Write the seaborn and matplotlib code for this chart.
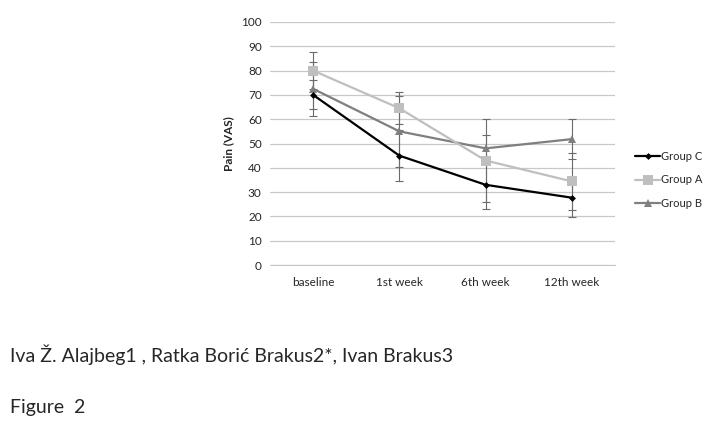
import pandas as pd
import numpy as np
from matplotlib import pyplot as plt
import seaborn as sns

weeks = ["baseline", "1st week", "6th week", "12th week"]
groups = ["Group C", "Group A", "Group B"]
group_c = [70, 45, 33, 27.7]
group_a = [80, 64.5, 43, 34.4]
group_b = [72.5, 55, 48, 51.8]
err_c = [6, 10.5, 10, 8]
err_a = [7.5, 6.5, 17, 11.6]
err_b = [11, 14.5, 5.5, 8.2]

sns.set_style("white")
plt.rcParams['font.family'] = ['Lato', 'DejaVu Sans']

df = pd.DataFrame({
    'week': weeks * 3,
    'group': np.repeat(groups, len(weeks)),
    'pain': group_c + group_a + group_b,
    'err': err_c + err_a + err_b,
})

colors = {"Group C": "#000000", "Group A": "#bfbfbf", "Group B": "#7f7f7f"}
markers = {"Group C": "D", "Group A": "s", "Group B": "^"}
msizes = {"Group C": 3.5, "Group A": 7, "Group B": 5.5}

fig = plt.figure(figsize=(7.13, 4.32), dpi=100)
ax = fig.add_axes([270 / 713, 1 - 265 / 432, 345 / 713, 243 / 432])

# error bars first so lines sit on top
for g in groups[::-1]:
    sub = df[df['group'] == g]
    ax.errorbar(sub['week'], sub['pain'], yerr=sub['err'], fmt='none',
                ecolor='#6b6b6b', elinewidth=0.8, capsize=3, capthick=0.8, zorder=2)

for g in groups[::-1]:
    sub = df[df['group'] == g]
    sns.lineplot(data=sub, x='week', y='pain', ax=ax, color=colors[g],
                 marker=markers[g], markersize=msizes[g], markeredgewidth=0,
                 linewidth=1.6, label=g, zorder=3, sort=False)

ax.set_xlim(-0.5, 3.5)
ax.set_ylim(0, 100)
ax.set_yticks(range(0, 101, 10))
ax.yaxis.grid(True, color='#c8c8c8', linewidth=0.9)
ax.set_axisbelow(True)
for s in ['top', 'right', 'left']:
    ax.spines[s].set_visible(False)
ax.spines['bottom'].set_color('#c8c8c8')
ax.tick_params(axis='both', length=0, labelsize=8.5, pad=6)
ax.tick_params(axis='x', pad=9)
ax.set_xlabel('')
ax.set_ylabel('Pain (VAS)', fontsize=8.5, fontweight='bold', labelpad=5)

handles, labels = ax.get_legend_handles_labels()
order = [labels.index(g) for g in groups]
ax.legend([handles[i] for i in order], [labels[i] for i in order],
          loc='center left', bbox_to_anchor=(1.03, 0.35), frameon=False,
          fontsize=8, handlelength=2.2, handletextpad=0.1, labelspacing=1.1)

fig.text(10 / 713, 1 - 355 / 432, "Iva Ž. Alajbeg1 , Ratka Borić Brakus2*, Ivan Brakus3",
         fontsize=14, va='center', ha='left')
fig.text(10 / 713, 1 - 407 / 432, "Figure  2", fontsize=14, va='center', ha='left')

fig.savefig("out.png", dpi=100)
